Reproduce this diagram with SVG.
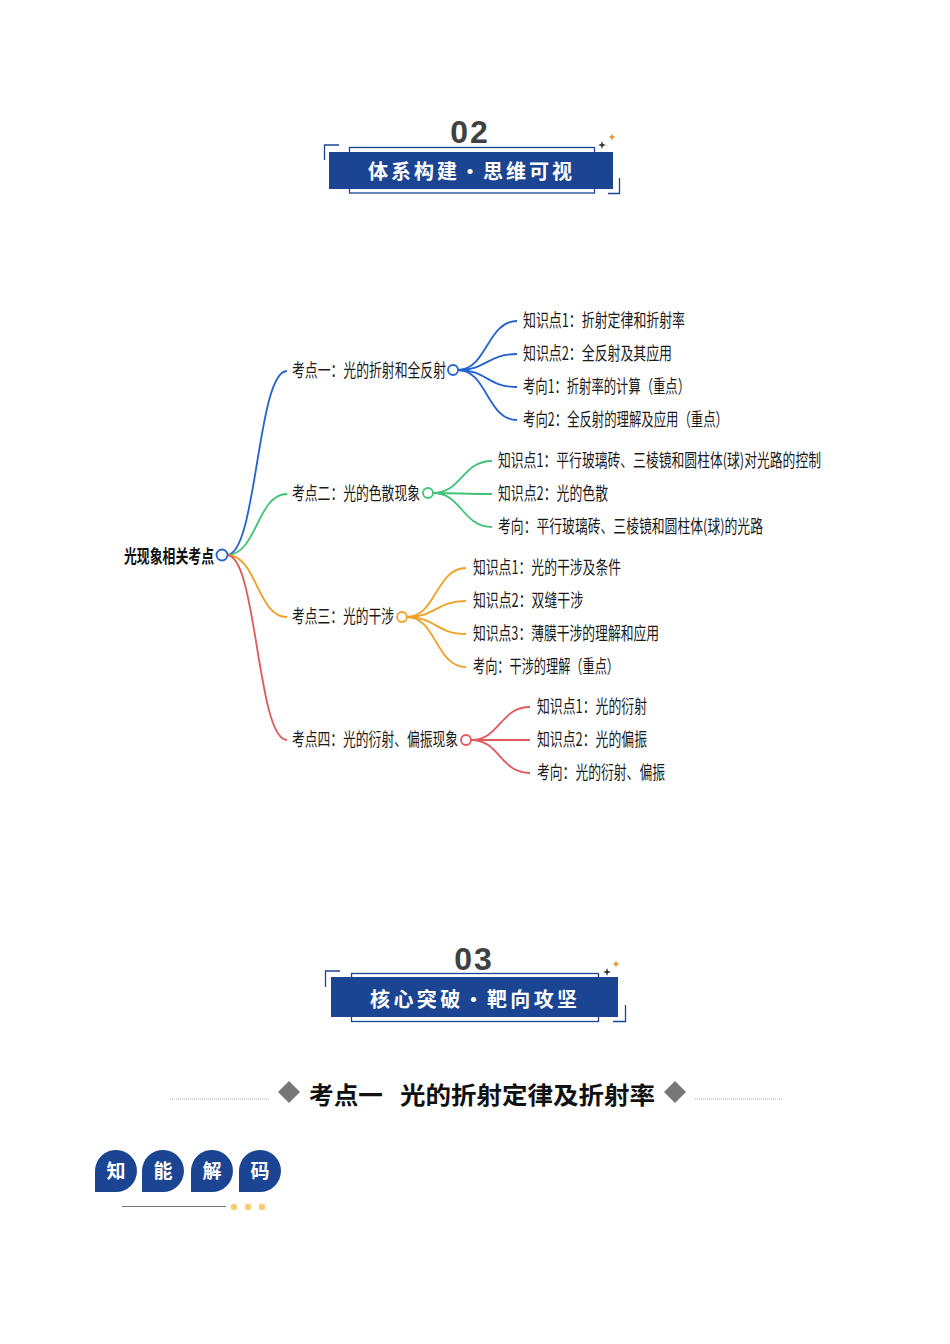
<svg xmlns="http://www.w3.org/2000/svg" width="950" height="1344" viewBox="0 0 950 1344">
<style>
.hdrnum{font-family:"Liberation Sans",sans-serif;font-weight:bold;font-size:32px;fill:#404040;letter-spacing:2px}
.hdrtitle{font-family:"Noto Sans CJK SC",sans-serif;font-weight:bold;font-size:20px;fill:#ffffff}
.frame{fill:none;stroke:#1b4592;stroke-width:1.3}
.band{fill:#1b4592}
.mm{font-family:"Noto Sans CJK SC",sans-serif;font-size:18px;fill:#1a1a1a}
.root{font-family:"Noto Sans CJK SC",sans-serif;font-size:18px;font-weight:bold;fill:#111}
.c{fill:#fff;stroke-width:1.8}
.ln{fill:none;stroke-width:1.8}
.blue{stroke:#2463cf}.green{stroke:#3fc377}.orange{stroke:#f0a126}.red{stroke:#e05a5a}
.sec{font-family:"Noto Sans CJK SC",sans-serif;font-weight:bold;font-size:24px;fill:#111}
.zn{font-family:"Noto Sans CJK SC",sans-serif;font-weight:bold;font-size:19px;fill:#fff}
</style>

<g id="header02">
  <text class="hdrnum" x="470" y="143" text-anchor="middle">02</text>
  <path class="frame" d="M339,145 H324.5 V160"/>
  <rect class="frame" x="349.5" y="147.5" width="245" height="45.5"/>
  <rect class="band" x="329" y="152" width="284" height="37"/>
  <path class="frame" d="M608,193.5 H619.5 V178"/>
  <path d="M602,141 L603,144 L606,145 L603,146 L602,149 L601,146 L598,145 L601,144 Z" fill="#333"/>
  <path d="M612,133.5 L613,136 L615.5,137 L613,138 L612,140.5 L611,138 L608.5,137 L611,136 Z" fill="#e6912e"/>
  <text class="hdrtitle" x="368" y="179" textLength="204" lengthAdjust="spacing">体系构建・思维可视</text>
</g>

<g id="mindmap-connectors">
  <path class="ln blue" d="M227,555 C257,555 257,371 287,371"/>
  <path class="ln green" d="M227,555 C257,555 257,494 287,494"/>
  <path class="ln orange" d="M227,555 C257,555 257,617 287,617"/>
  <path class="ln red" d="M227,555 C257,555 257,740 287,740"/>

  <path class="ln blue" d="M458,370 C487,370 487,321 517,321"/>
  <path class="ln blue" d="M458,370 C487,370 487,354 517,354"/>
  <path class="ln blue" d="M458,370 C487,370 487,387 517,387"/>
  <path class="ln blue" d="M458,370 C487,370 487,420 517,420"/>

  <path class="ln green" d="M433,493 C462,493 462,461 492,461"/>
  <path class="ln green" d="M433,493 C462,493 462,494 492,494"/>
  <path class="ln green" d="M433,493 C462,493 462,527 492,527"/>

  <path class="ln orange" d="M407,617 C436,617 436,568 466,568"/>
  <path class="ln orange" d="M407,617 C436,617 436,601 466,601"/>
  <path class="ln orange" d="M407,617 C436,617 436,634 466,634"/>
  <path class="ln orange" d="M407,617 C436,617 436,667 466,667"/>

  <path class="ln red" d="M471,740 C500,740 500,707 530,707"/>
  <path class="ln red" d="M471,740 C500,740 500,740 530,740"/>
  <path class="ln red" d="M471,740 C500,740 500,773 530,773"/>
</g>

<g id="root">
  <text class="root" x="124" y="563" textLength="90" lengthAdjust="spacingAndGlyphs">光现象相关考点</text>
  <circle class="c blue" cx="222" cy="555" r="5.5"/>
</g>

<g id="kd1">
  <text class="mm" x="292" y="377" textLength="154" lengthAdjust="spacingAndGlyphs">考点一：光的折射和全反射</text>
  <circle class="c blue" cx="453" cy="370" r="5"/>
</g>
<g id="kd1-c1"><text class="mm" x="523" y="327" textLength="162" lengthAdjust="spacingAndGlyphs">知识点1：折射定律和折射率</text></g>
<g id="kd1-c2"><text class="mm" x="523" y="360" textLength="149" lengthAdjust="spacingAndGlyphs">知识点2：全反射及其应用</text></g>
<g id="kd1-c3"><text class="mm" x="523" y="393" textLength="167" lengthAdjust="spacingAndGlyphs">考向1：折射率的计算（重点）</text></g>
<g id="kd1-c4"><text class="mm" x="523" y="426" textLength="205" lengthAdjust="spacingAndGlyphs">考向2：全反射的理解及应用（重点）</text></g>

<g id="kd2">
  <text class="mm" x="292" y="500" textLength="128" lengthAdjust="spacingAndGlyphs">考点二：光的色散现象</text>
  <circle class="c green" cx="428" cy="493" r="5"/>
</g>
<g id="kd2-c1"><text class="mm" x="498" y="467" textLength="323" lengthAdjust="spacingAndGlyphs">知识点1：平行玻璃砖、三棱镜和圆柱体(球)对光路的控制</text></g>
<g id="kd2-c2"><text class="mm" x="498" y="500" textLength="110" lengthAdjust="spacingAndGlyphs">知识点2：光的色散</text></g>
<g id="kd2-c3"><text class="mm" x="498" y="533" textLength="265" lengthAdjust="spacingAndGlyphs">考向：平行玻璃砖、三棱镜和圆柱体(球)的光路</text></g>

<g id="kd3">
  <text class="mm" x="292" y="623" textLength="102" lengthAdjust="spacingAndGlyphs">考点三：光的干涉</text>
  <circle class="c orange" cx="402" cy="617" r="5"/>
</g>
<g id="kd3-c1"><text class="mm" x="473" y="574" textLength="148" lengthAdjust="spacingAndGlyphs">知识点1：光的干涉及条件</text></g>
<g id="kd3-c2"><text class="mm" x="473" y="607" textLength="110" lengthAdjust="spacingAndGlyphs">知识点2：双缝干涉</text></g>
<g id="kd3-c3"><text class="mm" x="473" y="640" textLength="186" lengthAdjust="spacingAndGlyphs">知识点3：薄膜干涉的理解和应用</text></g>
<g id="kd3-c4"><text class="mm" x="473" y="673" textLength="146" lengthAdjust="spacingAndGlyphs">考向：干涉的理解（重点）</text></g>

<g id="kd4">
  <text class="mm" x="292" y="746" textLength="166" lengthAdjust="spacingAndGlyphs">考点四：光的衍射、偏振现象</text>
  <circle class="c red" cx="466" cy="740" r="5"/>
</g>
<g id="kd4-c1"><text class="mm" x="537" y="713" textLength="110" lengthAdjust="spacingAndGlyphs">知识点1：光的衍射</text></g>
<g id="kd4-c2"><text class="mm" x="537" y="746" textLength="110" lengthAdjust="spacingAndGlyphs">知识点2：光的偏振</text></g>
<g id="kd4-c3"><text class="mm" x="537" y="779" textLength="128" lengthAdjust="spacingAndGlyphs">考向：光的衍射、偏振</text></g>

<g id="header03">
  <text class="hdrnum" x="474" y="970" text-anchor="middle">03</text>
  <path class="frame" d="M340,971 H325.5 V987"/>
  <rect class="frame" x="351.5" y="973.5" width="247" height="48"/>
  <rect class="band" x="331" y="977" width="287" height="40"/>
  <path class="frame" d="M613,1021.5 H625.5 V1005"/>
  <path d="M607,968 L608,971 L611,972 L608,973 L607,976 L606,973 L603,972 L606,971 Z" fill="#333"/>
  <path d="M616,960.5 L617,963 L619.5,964 L617,965 L616,967.5 L615,965 L612.5,964 L615,963 Z" fill="#e6912e"/>
  <text class="hdrtitle" x="370" y="1007" textLength="207" lengthAdjust="spacing">核心突破・靶向攻坚</text>
</g>

<g id="section-title">
  <line x1="170" y1="1099" x2="270" y2="1099" stroke="#aaa" stroke-width="1" stroke-dasharray="1,1"/>
  <line x1="695" y1="1099" x2="783" y2="1099" stroke="#aaa" stroke-width="1" stroke-dasharray="1,1"/>
  <path d="M289,1081 L300,1092 L289,1103 L278,1092 Z" fill="#777"/>
  <path d="M675,1081 L686,1092 L675,1103 L664,1092 Z" fill="#777"/>
  <text class="sec" y="1104"><tspan x="309" textLength="74" lengthAdjust="spacingAndGlyphs">考点一</tspan><tspan x="400" textLength="255" lengthAdjust="spacingAndGlyphs">光的折射定律及折射率</tspan></text>
</g>

<g id="zhinengjiema">
  <path d="M95,1192 V1170 A21,21 0 1 1 116,1192 Z" fill="#1b4592"/>
  <path d="M142,1192 V1170 A21,21 0 1 1 163,1192 Z" fill="#1b4592"/>
  <path d="M191,1192 V1170 A21,21 0 1 1 212,1192 Z" fill="#1b4592"/>
  <path d="M239,1192 V1170 A21,21 0 1 1 260,1192 Z" fill="#1b4592"/>
  <text class="zn" x="116" y="1178" text-anchor="middle">知</text>
  <text class="zn" x="163" y="1178" text-anchor="middle">能</text>
  <text class="zn" x="212" y="1178" text-anchor="middle">解</text>
  <text class="zn" x="260" y="1178" text-anchor="middle">码</text>
  <line x1="122" y1="1206.5" x2="226" y2="1206.5" stroke="#777" stroke-width="1.2"/>
  <circle cx="234" cy="1207" r="3.3" fill="#f7cd72"/>
  <circle cx="248" cy="1207" r="3.3" fill="#f7cd72"/>
  <circle cx="262" cy="1207" r="3.3" fill="#f7cd72"/>
</g>
</svg>
